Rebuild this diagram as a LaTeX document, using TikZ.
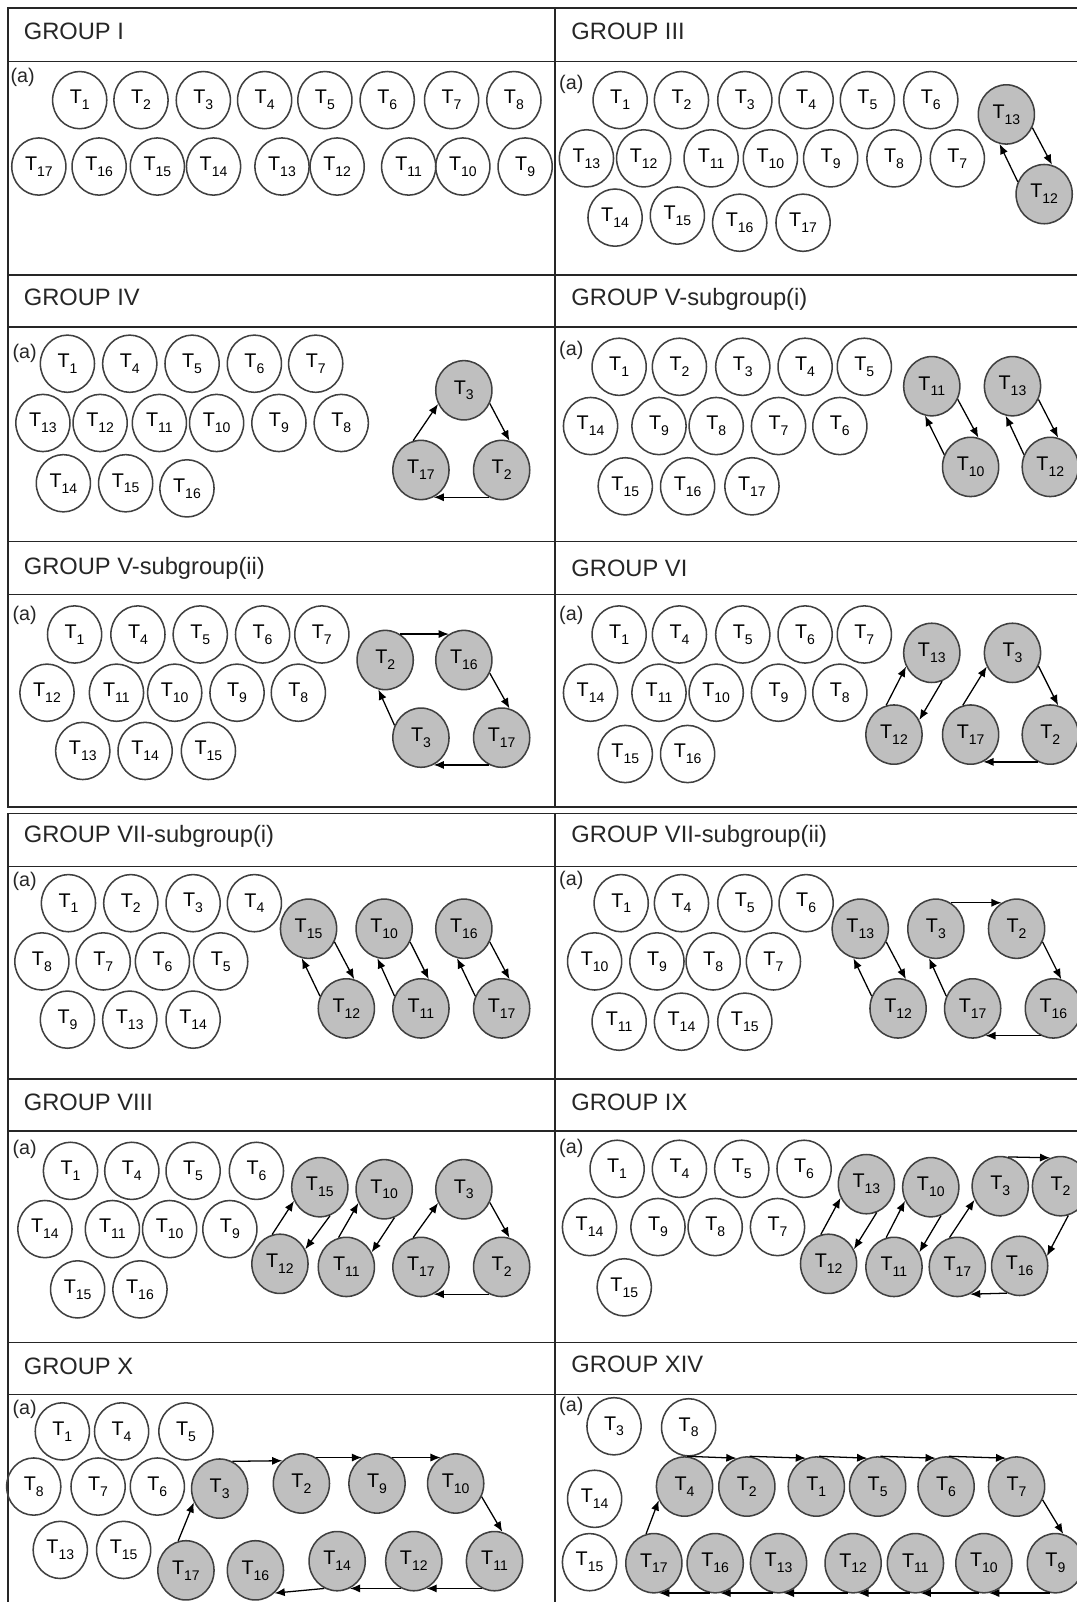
\documentclass[tikz,border=0pt]{standalone}
\usepackage{fontspec}
\setmainfont{Liberation Sans}
\usetikzlibrary{arrows.meta,shapes.geometric}
\newcommand{\tsub}[1]{T\raisebox{-3.3pt}{\fontsize{7.8}{7.8}\selectfont #1}}

\begin{document}
\begin{tikzpicture}[x=0.2mm,y=-0.2mm,
  tw/.style={ellipse, draw=black!75, line width=0.3mm, minimum width=10.6mm, minimum height=11.2mm, inner sep=0pt, font=\fontsize{11}{11}\selectfont},
  tg/.style={tw, fill=black!25, minimum width=11mm, minimum height=11.6mm},
  arr/.style={-{Latex[length=2mm,width=1.6mm]}, line width=0.25mm},
  hdr/.style={anchor=west, inner sep=0pt, text=black!85, font=\fontsize{13.2}{13.2}\selectfont},
  lbl/.style={anchor=north west, inner sep=0pt, text=black!85, font=\fontsize{11}{11}\selectfont},
  gridline/.style={line width=0.3mm, black!85}]
  \useasboundingbox (0,0) rectangle (1054,1568);
  \fill[white] (0,0) rectangle (1054,1568);

  % ---------- table frames ----------
  \draw[gridline] (1060,8) -- (8,8) -- (8,790) -- (1060,790);
  \foreach \y in {60,269,320,530,582} \draw[gridline] (8,\y) -- (1060,\y);
  \draw[gridline] (543,8) -- (543,790);
  \draw[gridline] (1060,796) -- (8,796) -- (8,1575);
  \foreach \y in {848,1056,1107,1314,1365} \draw[gridline] (8,\y) -- (1060,\y);
  \draw[gridline] (543,796) -- (543,1575);

  % ---------- GROUP I ----------
  \node[hdr] (hI) at (23,31) {GROUP I};
  \node[lbl] (aI) at (10,66) {(a)};
  \foreach \n/\x in {1/78,2/138,3/199,4/259,5/318,6/379,7/442,8/503}
    \node[tw] (wI-\n) at (\x,98) {\tsub{\n}};
  \foreach \n/\x in {17/38,16/97,15/154,14/209,13/276,12/330,11/400,10/453,9/514}
    \node[tw] (wI-\n) at (\x,163) {\tsub{\n}};

  % ---------- GROUP III ----------
  \node[hdr] (hIII) at (559,31) {GROUP III};
  \node[lbl] (aIII) at (547,73) {(a)};
  \foreach \n/\x in {1/607,2/667,3/729,4/789,5/849,6/911}
    \node[tw] (wIII-\n) at (\x,98) {\tsub{\n}};
  \foreach \n/\x in {13/574,12/630,11/696,10/754,9/813,8/875,7/937}
    \node[tw] (wIII-\n) at (\x,155) {\tsub{\n}};
  \foreach \n/\x/\y in {14/602/213,15/663/211,16/724/218,17/786/218}
    \node[tw] (wIII-\n) at (\x,\y) {\tsub{\n}};
  \node[tg] (sIII-13) at (985,112) {\tsub{13}};
  \node[tg] (sIII-12) at (1022,190) {\tsub{12}};
  \draw[arr] (sIII-13.-27) -- (sIII-12.75);
  \draw[arr] (sIII-12.155) -- (sIII-13.-103);

  % ---------- GROUP IV ----------
  \node[hdr] (hIV) at (23,291) {GROUP IV};
  \node[lbl] (aIV) at (12,337) {(a)};
  \foreach \n/\x in {1/66,4/127,5/188,6/249,7/309}
    \node[tw] (wIV-\n) at (\x,356) {\tsub{\n}};
  \foreach \n/\x in {13/42,12/98,11/156,10/212,9/273,8/334}
    \node[tw] (wIV-\n) at (\x,414) {\tsub{\n}};
  \foreach \n/\x/\y in {14/62/473,15/123/473,16/183/478}
    \node[tw] (wIV-\n) at (\x,\y) {\tsub{\n}};
  \node[tg] (sIV-3) at (454,382) {\tsub{3}};
  \node[tg] (sIV-17) at (412,460) {\tsub{17}};
  \node[tg] (sIV-2) at (491,460) {\tsub{2}};
  \draw[arr] (sIV-17.105) -- (sIV-3.-152);
  \draw[arr] (sIV-3.-27) -- (sIV-2.75);
  \draw[arr] (sIV-2.-115) -- (sIV-17.-65);

  % ---------- GROUP V-subgroup(i) ----------
  \node[hdr] (hVa) at (559,293) {GROUP V-subgroup(i)};
  \node[lbl] (aVa) at (547,334) {(a)};
  \foreach \n/\x in {1/606,2/665,3/727,4/788,5/846}
    \node[tw] (wVa-\n) at (\x,359) {\tsub{\n}};
  \foreach \n/\x in {14/578,9/645,8/701,7/762,6/822}
    \node[tw] (wVa-\n) at (\x,417) {\tsub{\n}};
  \foreach \n/\x in {15/612,16/673,17/736}
    \node[tw] (wVa-\n) at (\x,476) {\tsub{\n}};
  \node[tg] (sVa-11) at (912,378) {\tsub{11}};
  \node[tg] (sVa-10) at (950,457) {\tsub{10}};
  \node[tg] (sVa-13) at (991,378) {\tsub{13}};
  \node[tg] (sVa-12) at (1028,457) {\tsub{12}};
  \draw[arr] (sVa-11.-27) -- (sVa-10.75);
  \draw[arr] (sVa-10.155) -- (sVa-11.-103);
  \draw[arr] (sVa-13.-27) -- (sVa-12.75);
  \draw[arr] (sVa-12.155) -- (sVa-13.-103);

  % ---------- GROUP V-subgroup(ii) ----------
  \node[hdr] (hVb) at (23,556) {GROUP V-subgroup(ii)};
  \node[lbl] (aVb) at (12,593) {(a)};
  \foreach \n/\x in {1/73,4/135,5/196,6/257,7/315}
    \node[tw] (wVb-\n) at (\x,621) {\tsub{\n}};
  \foreach \n/\x in {12/46,11/114,10/171,9/232,8/292}
    \node[tw] (wVb-\n) at (\x,678) {\tsub{\n}};
  \foreach \n/\x in {13/81,14/142,15/204}
    \node[tw] (wVb-\n) at (\x,735) {\tsub{\n}};
  \node[tg] (sVb-2) at (377,646) {\tsub{2}};
  \node[tg] (sVb-16) at (454,646) {\tsub{16}};
  \node[tg] (sVb-3) at (412,722) {\tsub{3}};
  \node[tg] (sVb-17) at (491,722) {\tsub{17}};
  \draw[arr] (sVb-2.60) -- (sVb-16.120);
  \draw[arr] (sVb-16.-27) -- (sVb-17.75);
  \draw[arr] (sVb-17.-115) -- (sVb-3.-65);
  \draw[arr] (sVb-3.155) -- (sVb-2.-103);

  % ---------- GROUP VI ----------
  \node[hdr] (hVI) at (559,556) {GROUP VI};
  \node[lbl] (aVI) at (547,593) {(a)};
  \foreach \n/\x in {1/606,4/665,5/727,6/788,7/846}
    \node[tw] (wVI-\n) at (\x,621) {\tsub{\n}};
  \foreach \n/\x in {14/578,11/645,10/701,9/762,8/822}
    \node[tw] (wVI-\n) at (\x,678) {\tsub{\n}};
  \foreach \n/\x in {15/612,16/673}
    \node[tw] (wVI-\n) at (\x,738) {\tsub{\n}};
  \node[tg] (sVI-13) at (912,639) {\tsub{13}};
  \node[tg] (sVI-12) at (875,719) {\tsub{12}};
  \node[tg] (sVI-3) at (991,639) {\tsub{3}};
  \node[tg] (sVI-17) at (950,719) {\tsub{17}};
  \node[tg] (sVI-2) at (1028,719) {\tsub{2}};
  \draw[arr] (sVI-12.105) -- (sVI-13.-152);
  \draw[arr] (sVI-13.-70) -- (sVI-12.30);
  \draw[arr] (sVI-17.105) -- (sVI-3.-152);
  \draw[arr] (sVI-3.-27) -- (sVI-2.75);
  \draw[arr] (sVI-2.-115) -- (sVI-17.-65);

  % ---------- GROUP VII-subgroup(i) ----------
  \node[hdr] (hVIIa) at (23,819) {GROUP VII-subgroup(i)};
  \node[lbl] (aVIIa) at (12,853) {(a)};
  \foreach \n/\x in {1/67,2/128,3/189,4/249}
    \node[tw] (wVIIa-\n) at (\x,884) {\tsub{\n}};
  \foreach \n/\x in {8/41,7/101,6/159,5/216}
    \node[tw] (wVIIa-\n) at (\x,941) {\tsub{\n}};
  \foreach \n/\x in {9/66,13/127,14/189}
    \node[tw] (wVIIa-\n) at (\x,998) {\tsub{\n}};
  \node[tg] (sVIIa-15) at (302,909) {\tsub{15}};
  \node[tg] (sVIIa-12) at (339,987) {\tsub{12}};
  \node[tg] (sVIIa-10) at (376,909) {\tsub{10}};
  \node[tg] (sVIIa-11) at (412,987) {\tsub{11}};
  \node[tg] (sVIIa-16) at (454,909) {\tsub{16}};
  \node[tg] (sVIIa-17) at (491,987) {\tsub{17}};
  \draw[arr] (sVIIa-15.-27) -- (sVIIa-12.75);
  \draw[arr] (sVIIa-12.155) -- (sVIIa-15.-103);
  \draw[arr] (sVIIa-10.-27) -- (sVIIa-11.75);
  \draw[arr] (sVIIa-11.155) -- (sVIIa-10.-103);
  \draw[arr] (sVIIa-16.-27) -- (sVIIa-17.75);
  \draw[arr] (sVIIa-17.155) -- (sVIIa-16.-103);

  % ---------- GROUP VII-subgroup(ii) ----------
  \node[hdr] (hVIIb) at (559,819) {GROUP VII-subgroup(ii)};
  \node[lbl] (aVIIb) at (547,852) {(a)};
  \foreach \n/\x in {1/608,4/667,5/729,6/789}
    \node[tw] (wVIIb-\n) at (\x,884) {\tsub{\n}};
  \foreach \n/\x in {10/582,9/643,8/698,7/757}
    \node[tw] (wVIIb-\n) at (\x,941) {\tsub{\n}};
  \foreach \n/\x in {11/606,14/667,15/729}
    \node[tw] (wVIIb-\n) at (\x,1000) {\tsub{\n}};
  \node[tg] (sVIIb-13) at (842,909) {\tsub{13}};
  \node[tg] (sVIIb-12) at (879,987) {\tsub{12}};
  \node[tg] (sVIIb-3) at (916,909) {\tsub{3}};
  \node[tg] (sVIIb-2) at (995,909) {\tsub{2}};
  \node[tg] (sVIIb-17) at (952,987) {\tsub{17}};
  \node[tg] (sVIIb-16) at (1031,987) {\tsub{16}};
  \draw[arr] (sVIIb-13.-27) -- (sVIIb-12.75);
  \draw[arr] (sVIIb-12.155) -- (sVIIb-13.-103);
  \draw[arr] (sVIIb-3.60) -- (sVIIb-2.120);
  \draw[arr] (sVIIb-2.-27) -- (sVIIb-16.75);
  \draw[arr] (sVIIb-16.-115) -- (sVIIb-17.-65);
  \draw[arr] (sVIIb-17.155) -- (sVIIb-3.-103);

  % ---------- GROUP VIII ----------
  \node[hdr] (hVIII) at (23,1079) {GROUP VIII};
  \node[lbl] (aVIII) at (12,1116) {(a)};
  \foreach \n/\x in {1/69,4/129,5/189,6/251}
    \node[tw] (wVIII-\n) at (\x,1146) {\tsub{\n}};
  \foreach \n/\x in {14/44,11/110,10/166,9/225}
    \node[tw] (wVIII-\n) at (\x,1203) {\tsub{\n}};
  \foreach \n/\x in {15/76,16/137}
    \node[tw] (wVIII-\n) at (\x,1262) {\tsub{\n}};
  \node[tg] (sVIII-15) at (313,1162) {\tsub{15}};
  \node[tg] (sVIII-12) at (274,1237) {\tsub{12}};
  \node[tg] (sVIII-10) at (376,1164) {\tsub{10}};
  \node[tg] (sVIII-11) at (339,1240) {\tsub{11}};
  \node[tg] (sVIII-3) at (454,1164) {\tsub{3}};
  \node[tg] (sVIII-17) at (412,1240) {\tsub{17}};
  \node[tg] (sVIII-2) at (491,1240) {\tsub{2}};
  \draw[arr] (sVIII-12.105) -- (sVIII-15.-152);
  \draw[arr] (sVIII-15.-70) -- (sVIII-12.30);
  \draw[arr] (sVIII-11.105) -- (sVIII-10.-152);
  \draw[arr] (sVIII-10.-70) -- (sVIII-11.30);
  \draw[arr] (sVIII-17.105) -- (sVIII-3.-152);
  \draw[arr] (sVIII-3.-27) -- (sVIII-2.75);
  \draw[arr] (sVIII-2.-115) -- (sVIII-17.-65);

  % ---------- GROUP IX ----------
  \node[hdr] (hIX) at (559,1079) {GROUP IX};
  \node[lbl] (aIX) at (547,1115) {(a)};
  \foreach \n/\x in {1/604,4/665,5/726,6/787}
    \node[tw] (wIX-\n) at (\x,1144) {\tsub{\n}};
  \foreach \n/\x in {14/577,9/644,8/700,7/761}
    \node[tw] (wIX-\n) at (\x,1201) {\tsub{\n}};
  \node[tw] (wIX-15) at (611,1260) {\tsub{15}};
  \node[tg] (sIX-13) at (848,1159) {\tsub{13}};
  \node[tg] (sIX-12) at (811,1237) {\tsub{12}};
  \node[tg] (sIX-10) at (911,1162) {\tsub{10}};
  \node[tg] (sIX-11) at (875,1240) {\tsub{11}};
  \node[tg] (sIX-3) at (979,1161) {\tsub{3}};
  \node[tg] (sIX-2) at (1038,1161) {\tsub{2}};
  \node[tg] (sIX-17) at (937,1240) {\tsub{17}};
  \node[tg] (sIX-16) at (998,1239) {\tsub{16}};
  \draw[arr] (sIX-12.105) -- (sIX-13.-152);
  \draw[arr] (sIX-13.-70) -- (sIX-12.30);
  \draw[arr] (sIX-11.105) -- (sIX-10.-152);
  \draw[arr] (sIX-10.-70) -- (sIX-11.30);
  \draw[arr] (sIX-17.105) -- (sIX-3.-152);
  \draw[arr] (sIX-3.75) -- (sIX-2.110);
  \draw[arr] (sIX-2.-75) -- (sIX-16.20);
  \draw[arr] (sIX-16.-115) -- (sIX-17.-65);

  % ---------- GROUP X ----------
  \node[hdr] (hX) at (23,1337) {GROUP X};
  \node[lbl] (aX) at (12,1370) {(a)};
  \foreach \n/\x in {1/61,4/119,5/182}
    \node[tw] (wX-\n) at (\x,1401) {\tsub{\n}};
  \foreach \n/\x in {8/33,7/96,6/154}
    \node[tw] (wX-\n) at (\x,1455) {\tsub{\n}};
  \foreach \n/\x in {13/59,15/121}
    \node[tw] (wX-\n) at (\x,1517) {\tsub{\n}};
  \node[tg] (sX-3) at (215,1457) {\tsub{3}};
  \foreach \n/\x in {2/295,9/369,10/446}
    \node[tg] (sX-\n) at (\x,1452) {\tsub{\n}};
  \node[tg] (sX-17) at (182,1537) {\tsub{17}};
  \node[tg] (sX-16) at (250,1537) {\tsub{16}};
  \foreach \n/\x in {14/330,12/405,11/484}
    \node[tg] (sX-\n) at (\x,1528) {\tsub{\n}};
  \draw[arr] (sX-17.105) -- (sX-3.-152);
  \draw[arr] (sX-3.65) -- (sX-2.130);
  \draw[arr] (sX-2.60) -- (sX-9.120);
  \draw[arr] (sX-9.60) -- (sX-10.120);
  \draw[arr] (sX-10.-27) -- (sX-11.75);
  \draw[arr] (sX-11.-115) -- (sX-12.-65);
  \draw[arr] (sX-12.-115) -- (sX-14.-65);
  \draw[arr] (sX-14.-115) -- (sX-16.-50);

  % ---------- GROUP XIV ----------
  \node[hdr] (hXIV) at (559,1335) {GROUP XIV};
  \node[lbl] (aXIV) at (547,1367) {(a)};
  \node[tw] (wXIV-3) at (601,1396) {\tsub{3}};
  \node[tw] (wXIV-8) at (674,1397) {\tsub{8}};
  \node[tw] (wXIV-14) at (582,1467) {\tsub{14}};
  \node[tw] (wXIV-15) at (577,1529) {\tsub{15}};
  \foreach \n/\x in {4/670,2/731,1/799,5/859,6/926,7/995}
    \node[tg] (sXIV-\n) at (\x,1455) {\tsub{\n}};
  \foreach \n/\x in {17/640,16/700,13/762,12/835,11/896,10/963,9/1033}
    \node[tg] (sXIV-\n) at (\x,1530) {\tsub{\n}};
  \draw[arr] (sXIV-17.105) -- (sXIV-4.-152);
  \draw[arr] (sXIV-4.85) -- (sXIV-2.110);
  \draw[arr] (sXIV-2.85) -- (sXIV-1.110);
  \draw[arr] (sXIV-1.85) -- (sXIV-5.110);
  \draw[arr] (sXIV-5.85) -- (sXIV-6.110);
  \draw[arr] (sXIV-6.85) -- (sXIV-7.110);
  \draw[arr] (sXIV-7.-27) -- (sXIV-9.75);
  \draw[arr] (sXIV-9.-100) -- (sXIV-10.-80);
  \draw[arr] (sXIV-10.-100) -- (sXIV-11.-80);
  \draw[arr] (sXIV-11.-100) -- (sXIV-12.-80);
  \draw[arr] (sXIV-12.-100) -- (sXIV-13.-80);
  \draw[arr] (sXIV-13.-100) -- (sXIV-16.-80);
  \draw[arr] (sXIV-16.-100) -- (sXIV-17.-80);
\end{tikzpicture}
\end{document}
